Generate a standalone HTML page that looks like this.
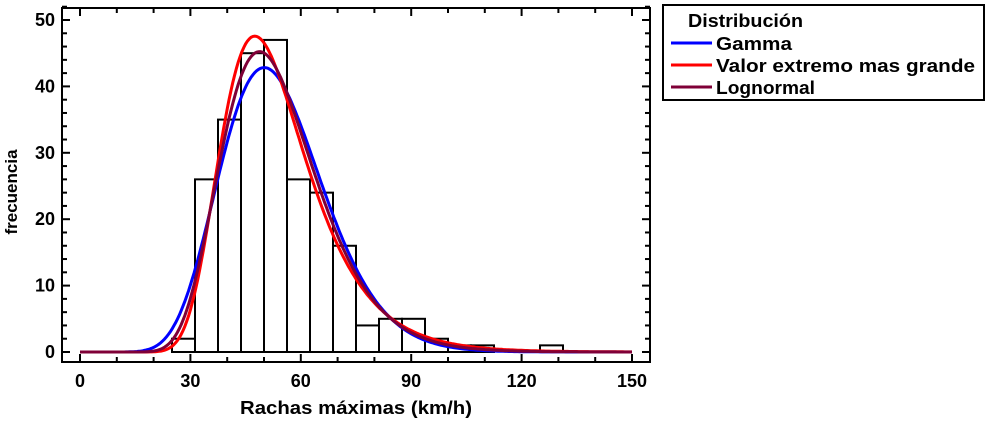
<!DOCTYPE html>
<html><head><meta charset="utf-8"><style>
body{margin:0;background:#fff;}
svg text{font-family:"Liberation Sans",Arial,sans-serif;font-weight:bold;}
</style></head><body>
<svg id="c" width="988" height="420" xmlns="http://www.w3.org/2000/svg"></svg>
<script>
const binStarts=[25,31.25,37.5,43.75,50,56.25,62.5,68.75,75,81.25,87.5,93.75,100,106.25,125];
const binCounts=[2,26,35,45,47,26,24,16,4,5,5,2,1,1,1];
const binWidth=6.25;
const xTicks=[0,30,60,90,120,150];
const yTicks=[0,10,20,30,40,50];
const gammaParams=[14,3.85];
const gumbelParams=[47.5,11.6];
const lognormParams=[3.956,0.262];
const seriesNames=["Gamma","Valor extremo mas grande","Lognormal"];
const seriesColors=["#0000ff","#ff0000","#7f0037"];

const svg=document.getElementById('c');
const NS='http://www.w3.org/2000/svg';
const X=v=>80+v*(552/150);
const Y=v=>352-v*(332/50);
function el(t,a,p){const e=document.createElementNS(NS,t);for(const k in a)e.setAttribute(k,a[k]);(p||svg).appendChild(e);return e;}

const frame=el('rect',{x:62,y:8,width:588,height:354,fill:'none',stroke:'#000','stroke-width':2});



for(let v=0;v<=150;v+=10){const maj=v%30===0;const L=maj?8:5;
el('line',{x1:X(v),x2:X(v),y1:362,y2:362-L,stroke:'#000','stroke-width':2});
el('line',{x1:X(v),x2:X(v),y1:8,y2:8+L,stroke:'#000','stroke-width':2});}
xTicks.forEach(v=>{const t=el('text',{x:X(v),y:387,'text-anchor':'middle','font-size':18});t.textContent=v;

});
for(let v=0;v<=52;v+=2){const maj=v%10===0;const L=maj?8:5;
el('line',{x1:62,x2:62+L,y1:Y(v),y2:Y(v),stroke:'#000','stroke-width':2});
el('line',{x1:650,x2:650-L,y1:Y(v),y2:Y(v),stroke:'#000','stroke-width':2});}
yTicks.forEach(v=>{const t=el('text',{x:55,y:Y(v)+6,'text-anchor':'end','font-size':18});t.textContent=v;

});

const xt=el('text',{x:240,y:414,'font-size':18,textLength:232,lengthAdjust:'spacingAndGlyphs'});xt.textContent='Rachas máximas (km/h)';


const yt=el('text',{x:0,y:0,'text-anchor':'middle','font-size':17,transform:'translate(17,192) rotate(-90)'});yt.textContent='frecuencia';



binStarts.forEach((s,i)=>{const r=el('rect',{x:X(s),y:Y(binCounts[i]),width:X(s+binWidth)-X(s),height:Y(0)-Y(binCounts[i]),fill:'none',stroke:'#000','stroke-width':2});

});

const N=binCounts.reduce((a,b)=>a+b,0)*binWidth;
function lgamma(z){const g=7,c=[0.99999999999980993,676.5203681218851,-1259.1392167224028,771.32342877765313,-176.61502916214059,12.507343278686905,-0.13857109526572012,9.9843695780195716e-6,1.5056327351493116e-7];
z-=1;let x=c[0];for(let i=1;i<g+2;i++)x+=c[i]/(z+i);const t=z+g+0.5;return 0.5*Math.log(2*Math.PI)+(z+0.5)*Math.log(t)-t+Math.log(x);}
const pdfs=[
x=>x<=0?0:Math.exp((gammaParams[0]-1)*Math.log(x)-x/gammaParams[1]-lgamma(gammaParams[0])-gammaParams[0]*Math.log(gammaParams[1])),
x=>{const z=(x-gumbelParams[0])/gumbelParams[1];return Math.exp(-(z+Math.exp(-z)))/gumbelParams[1];},
x=>x<=0?0:Math.exp(-Math.pow(Math.log(x)-lognormParams[0],2)/(2*lognormParams[1]**2))/(x*lognormParams[1]*Math.sqrt(2*Math.PI))
];
pdfs.forEach((f,i)=>{let d='';for(let x=0;x<=150;x+=0.5){d+=(x?'L':'M')+X(x).toFixed(1)+' '+Y(f(x)*N).toFixed(1);}
const p=el('path',{d,fill:'none',stroke:seriesColors[i],'stroke-width':3});

});

const lg=el('g',{});


el('rect',{x:663,y:5,width:321,height:95,fill:'#fff',stroke:'#000','stroke-width':2},lg);
const lt=el('text',{x:688,y:27,'font-size':18,textLength:115,lengthAdjust:'spacingAndGlyphs'},lg);lt.textContent='Distribución';


const lens=[76,259,99];
seriesNames.forEach((n,i)=>{const y=45+i*22;
const g=el('g',{},lg);


el('line',{x1:671,x2:712,y1:y-2,y2:y-2,stroke:seriesColors[i],'stroke-width':3},g);
const t=el('text',{x:716,y:y+5,'font-size':18,textLength:lens[i],lengthAdjust:'spacingAndGlyphs'},g);t.textContent=n;});
</script>
</body></html>
